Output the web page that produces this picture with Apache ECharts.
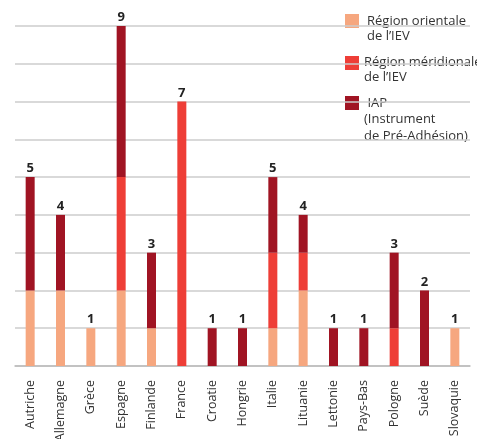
<!DOCTYPE html>
<html><head><meta charset="utf-8">
<script src="https://cdn.jsdelivr.net/npm/echarts@6/dist/echarts.min.js"></script>
<style>html,body{margin:0;padding:0;background:#fff}#c{width:477px;height:439px}</style>
</head><body><div id="c"></div>
<script>
var categories = ['Autriche','Allemagne','Grèce','Espagne','Finlande','France','Croatie','Hongrie','Italie','Lituanie','Lettonie','Pays-Bas','Pologne','Suède','Slovaquie'];
var orientale   = [2,2,1,2,1,0,0,0,1,2,0,0,0,0,1];
var meridionale = [0,0,0,3,0,7,0,0,2,1,0,0,1,0,0];
var iap         = [3,2,0,4,2,0,1,1,2,1,1,1,2,2,0];
var seriesNames = ["Région orientale de l’IEV","Région méridionale de l’IEV","IAP (Instrument de Pré-Adhésion)"];
var colors = ['#F6A77F','#EE3E37','#A01423'];

var all = [orientale, meridionale, iap];
function topIndex(i){ var t=-1; for (var s=0;s<all.length;s++){ if(all[s][i]>0) t=s; } return t; }
function total(i){ var t=0; for (var s=0;s<all.length;s++) t+=all[s][i]; return t; }

var series = all.map(function(arr, s){
  return {
    name: seriesNames[s], type:'bar', stack:'a', data: arr, barWidth: 9,
    itemStyle:{color: colors[s]},
    label:{show:true, position:'top', distance:2, color:'#222', fontWeight:'bold', fontSize:13, fontFamily:'Open Sans',
      formatter:function(p){ return topIndex(p.dataIndex)===s ? String(total(p.dataIndex)) : ''; }}
  };
});

var chart = echarts.init(document.getElementById('c'));
chart.setOption({
  animation:false,
  textStyle:{fontFamily:'Open Sans'},
  grid:{left:15, right:7, top:26, bottom:73, containLabel:false, outerBoundsMode:'none'},
  xAxis:{type:'category', data:categories,
    axisLine:{lineStyle:{color:'#bbbbbb', width:1.5}}, axisTick:{show:false},
    axisLabel:{rotate:90, fontSize:12.5, color:'#333', margin:14, interval:0, fontFamily:'Open Sans'}},
  yAxis:{type:'value', min:0, max:9, interval:1,
    axisLabel:{show:false}, axisLine:{show:false}, axisTick:{show:false},
    splitLine:{lineStyle:{color:'#cccccc', width:1.5}}},
  series: series,
  graphic:[
    {type:'rect', left:345, top:14, shape:{width:14,height:14}, style:{fill:colors[0]}},
    {type:'text', left:367, top:14, style:{text:'Région orientale\nde l’IEV', fontSize:13, lineHeight:15, fill:'#333', fontFamily:'Open Sans'}},
    {type:'rect', left:345, top:56, shape:{width:14,height:14}, style:{fill:colors[1]}},
    {type:'text', left:364, top:55, style:{text:'Région méridionale\nde l’IEV', fontSize:13, lineHeight:15, fill:'#333', fontFamily:'Open Sans'}},
    {type:'rect', left:345, top:96, shape:{width:14,height:14}, style:{fill:colors[2]}},
    {type:'text', left:364, top:95, style:{text:' IAP\n(Instrument\nde Pré-Adhésion)', fontSize:13, lineHeight:16.5, fill:'#333', fontFamily:'Open Sans'}}
  ]
});
</script></body></html>
